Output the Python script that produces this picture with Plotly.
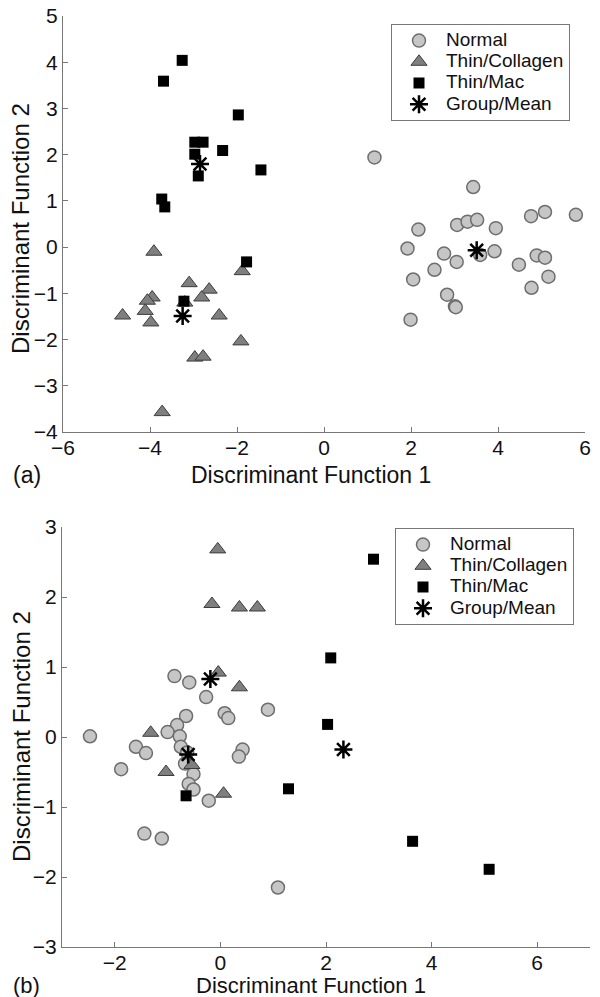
import plotly.graph_objects as go

# ---------------- Panel (a) data ----------------
a_normal_x = [1.16, 3.43, 2.17, 3.06, 3.30, 3.52, 3.95, 4.76, 5.08, 5.79, 1.92, 2.76, 3.05, 3.59,
              3.92, 4.48, 4.89, 5.08, 2.54, 2.05, 5.16, 4.77, 2.83, 3.01, 3.03, 1.99]
a_normal_y = [1.94, 1.30, 0.38, 0.48, 0.55, 0.59, 0.41, 0.67, 0.76, 0.70, -0.03, -0.14, -0.32, -0.17,
              -0.09, -0.38, -0.18, -0.23, -0.49, -0.70, -0.64, -0.88, -1.03, -1.28, -1.30, -1.57]
a_coll_x = [-3.91, -1.88, -3.10, -2.64, -2.81, -3.95, -4.06, -4.11, -4.63, -2.41, -3.98, -3.20,
            -1.91, -2.97, -2.78, -3.72]
a_coll_y = [-0.10, -0.52, -0.78, -0.92, -1.09, -1.09, -1.16, -1.38, -1.48, -1.48, -1.63, -1.20,
            -2.04, -2.39, -2.37, -3.57]
a_mac_x = [-3.26, -3.69, -1.97, -2.97, -2.78, -2.33, -2.97, -2.89, -1.45, -3.73, -3.66, -1.78, -3.22]
a_mac_y = [4.04, 3.59, 2.86, 2.27, 2.27, 2.09, 2.01, 1.54, 1.67, 1.04, 0.87, -0.32, -1.17]
a_mean_x = [-2.85, -3.25, 3.51]
a_mean_y = [1.80, -1.49, -0.07]

# ---------------- Panel (b) data ----------------
b_normal_x = [-0.87, -0.59, -0.27, 0.08, 0.15, 0.90, -0.65, -0.82, -1.00, -0.77, -2.47, -1.60, -1.41,
              -0.75, 0.42, 0.35, -0.67, -1.88, -0.51, -0.60, -0.51, -0.22, -1.44, -1.11, 1.09, -0.63]
b_normal_y = [0.87, 0.78, 0.57, 0.34, 0.27, 0.39, 0.30, 0.17, 0.07, 0.01, 0.01, -0.14, -0.23,
              -0.14, -0.18, -0.28, -0.38, -0.46, -0.53, -0.67, -0.75, -0.91, -1.38, -1.45, -2.15, -0.22]
b_coll_x = [-0.05, -0.16, 0.36, 0.70, -0.04, 0.36, -1.32, -0.54, -1.03, 0.06]
b_coll_y = [2.68, 1.90, 1.85, 1.85, 0.92, 0.71, 0.06, -0.40, -0.50, -0.81]
b_mac_x = [2.90, 2.09, 2.03, 1.29, -0.65, 3.64, 5.09]
b_mac_y = [2.54, 1.13, 0.18, -0.74, -0.84, -1.49, -1.89]
b_mean_x = [-0.19, -0.61, 2.33]
b_mean_y = [0.83, -0.25, -0.18]

names = ["Normal", "Thin/Collagen", "Thin/Mac", "Group/Mean"]
x_ticks_a = [-6, -4, -2, 0, 2, 4, 6]
y_ticks_a = [-4, -3, -2, -1, 0, 1, 2, 3, 4, 5]
x_ticks_b = [-2, 0, 2, 4, 6]
y_ticks_b = [-3, -2, -1, 0, 1, 2, 3]

FONT = "Liberation Sans, Arial, Helvetica, sans-serif"

styles = [
    dict(symbol="circle", size=13, color="#c6c6c6", line=dict(color="#6e6e6e", width=1.5)),
    dict(symbol="triangle-up", size=14, color="#7f7f7f", line=dict(color="#3c3c3c", width=1)),
    dict(symbol="square", size=11, color="#000000", line=dict(color="#000000", width=0)),
    dict(symbol="asterisk-open", size=15, color="#000000", line=dict(color="#000000", width=2.5)),
]

fig = go.Figure()

def add_panel(data, xa, ya, legend):
    for (xs, ys), name, st in zip(data, names, styles):
        fig.add_trace(go.Scatter(
            x=xs, y=ys, mode="markers",
            name='<span style="font-size:19px">' + name + '</span>',
            xaxis=xa, yaxis=ya, legend=legend, marker=st))

add_panel([(a_normal_x, a_normal_y), (a_coll_x, a_coll_y), (a_mac_x, a_mac_y), (a_mean_x, a_mean_y)],
          "x", "y", "legend")
add_panel([(b_normal_x, b_normal_y), (b_coll_x, b_coll_y), (b_mac_x, b_mac_y), (b_mean_x, b_mean_y)],
          "x2", "y2", "legend2")

axis_common = dict(showgrid=False, zeroline=False, showline=True, linecolor="#777777", linewidth=1.2,
                   ticks="inside", ticklen=5, tickcolor="#777777", mirror=False, automargin=False,
                   tickfont=dict(family=FONT, size=21, color="#111111"))

W, H = 600, 997
def px_x(p):
    return p / W
def px_y(p):
    return 1 - p / H

legend_common = dict(xanchor="left", yanchor="top", bordercolor="#777777", borderwidth=1,
                     bgcolor="white", font=dict(family=FONT, size=14, color="#111111"),
                     tracegroupgap=0, itemwidth=44)

fig.update_layout(
    template="none",
    width=W, height=H, margin=dict(l=0, r=0, t=0, b=0, pad=0),
    paper_bgcolor="white", plot_bgcolor="white",
    font=dict(family=FONT, color="#111111"),
    xaxis=dict(domain=[px_x(63), px_x(585)], range=[-6, 6], tickvals=x_ticks_a, anchor="y",
               ticklabelstandoff=-3, **axis_common),
    yaxis=dict(domain=[px_y(432), px_y(16)], range=[-4, 5], tickvals=y_ticks_a, anchor="x", **axis_common),
    xaxis2=dict(domain=[px_x(62), px_x(590)], range=[-3, 7], tickvals=x_ticks_b, anchor="y2",
                ticklabelstandoff=-3, **axis_common),
    yaxis2=dict(domain=[px_y(947), px_y(527)], range=[-3, 3], tickvals=y_ticks_b, anchor="x2", **axis_common),
    legend=dict(x=px_x(391), y=px_y(24), **legend_common),
    legend2=dict(x=px_x(395), y=px_y(528), **legend_common),
    showlegend=True,
)

ann_font = dict(family=FONT, size=23, color="#111111")
ann_font_y = dict(family=FONT, size=24, color="#111111")
ann_font_b = dict(family=FONT, size=22, color="#111111")
annotations = [
    dict(text="Discriminant Function 1", x=px_x(311), y=px_y(475), xref="paper", yref="paper",
         showarrow=False, font=ann_font, xanchor="center", yanchor="middle"),
    dict(text="Discriminant Function 2", x=px_x(21), y=px_y(229), xref="paper", yref="paper",
         showarrow=False, font=ann_font_y, textangle=-90, xanchor="center", yanchor="middle"),
    dict(text="(a)", x=px_x(11), y=px_y(475), xref="paper", yref="paper",
         showarrow=False, font=ann_font, xanchor="left", yanchor="middle"),
    dict(text="Discriminant Function 1", x=px_x(311), y=px_y(985), xref="paper", yref="paper",
         showarrow=False, font=ann_font_b, xanchor="center", yanchor="middle"),
    dict(text="Discriminant Function 2", x=px_x(21), y=px_y(737), xref="paper", yref="paper",
         showarrow=False, font=ann_font_y, textangle=-90, xanchor="center", yanchor="middle"),
    dict(text="(b)", x=px_x(11), y=px_y(985), xref="paper", yref="paper",
         showarrow=False, font=ann_font_b, xanchor="left", yanchor="middle"),
]
fig.update_layout(annotations=annotations)

fig.write_html("out.html", config={"displayModeBar": False},
               post_script="document.body.style.margin='0';document.body.style.overflow='hidden';")
